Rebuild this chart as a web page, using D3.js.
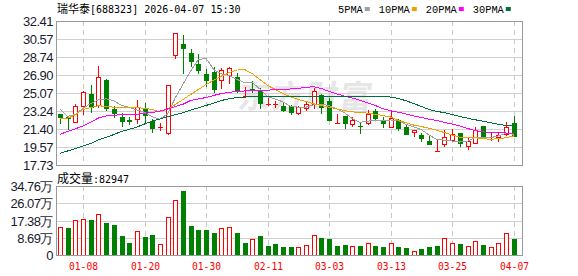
<!DOCTYPE html>
<html>
<head>
<meta charset="utf-8">
<script src="https://cdn.jsdelivr.net/npm/d3@7"></script>
<style>
html, body { margin: 0; padding: 0; background: #fff; }
svg { display: block; }
</style>
</head>
<body>
<div id="chart"></div>
<script>
// trading days shown (MM-DD)
const dates = ["01-05","01-06","01-07","01-08","01-09","01-12","01-13","01-14","01-15","01-16",
  "01-19","01-20","01-21","01-22","01-23","01-26","01-27","01-28","01-29","01-30",
  "02-02","02-03","02-04","02-05","02-06","02-09","02-10","02-11","02-12","02-13",
  "02-24","02-25","02-26","02-27","03-02","03-03","03-04","03-05","03-06","03-09",
  "03-10","03-11","03-12","03-13","03-16","03-17","03-18","03-19","03-20","03-23",
  "03-24","03-25","03-26","03-27","03-30","03-31","04-01","04-02","04-03","04-07"];

const open = [22.90,22.60,22.08,23.77,24.97,23.85,26.40,23.44,22.62,22.27,
  22.39,23.57,22.22,21.60,21.02,28.94,30.06,29.12,28.06,27.01,
  27.24,26.40,26.90,26.73,24.78,25.50,25.28,23.92,23.90,23.77,
  23.74,23.00,23.51,23.92,24.87,24.25,22.03,22.73,21.88,21.73,
  21.98,23.27,22.32,21.64,22.32,21.57,21.06,20.79,20.18,19.14,
  19.84,20.28,20.96,19.70,20.01,21.71,20.60,20.55,20.89,21.98];
const high = [22.95,22.62,23.95,25.27,25.89,27.82,26.45,23.70,23.00,22.59,
  24.36,24.02,22.39,21.98,25.90,31.20,30.98,29.53,29.05,27.49,
  27.75,27.59,27.75,27.08,25.71,26.29,25.55,24.59,24.25,24.02,
  23.85,23.74,24.29,25.61,24.97,24.53,22.93,22.75,22.59,21.98,
  23.34,23.41,22.66,23.27,22.39,21.81,21.30,20.96,20.79,20.35,
  21.30,21.37,21.00,20.55,21.64,21.74,20.96,20.96,22.14,22.73];
const low = [21.98,21.37,22.08,22.93,23.17,23.61,23.34,22.59,21.74,21.91,
  21.98,22.14,21.12,21.30,20.92,28.61,27.08,27.82,27.14,25.81,
  25.20,25.55,26.06,25.20,24.69,25.20,23.51,23.85,23.67,23.27,
  22.93,22.95,23.34,23.51,23.00,22.30,21.98,21.53,21.71,20.96,
  21.95,22.45,21.57,21.57,21.30,20.87,20.72,20.21,19.84,19.14,
  19.70,20.21,19.70,19.33,19.94,20.45,20.28,20.21,20.79,20.70];
const close = [22.58,22.55,23.77,25.14,23.61,26.73,23.51,23.06,22.25,22.24,
  23.67,22.83,21.53,21.63,25.85,31.16,29.66,28.37,27.41,26.40,
  25.48,27.41,27.65,25.38,24.80,25.48,24.02,23.95,23.93,23.34,
  23.17,23.67,23.95,25.28,23.61,22.32,22.05,21.98,22.32,21.71,
  22.93,22.49,21.98,22.49,21.47,20.89,21.30,20.45,19.84,19.16,
  20.55,20.86,19.94,20.21,21.30,20.52,20.62,20.79,21.64,20.72];
const prevClose = 22.40; // close of the day before the first candle

// volume in 万 (10k) shares
const volume = [14.1,13.8,17.6,18.0,17.6,20.5,16.3,15.1,9.6,6.2,
  12.1,9.1,10.1,5.5,19.0,27.7,32.2,14.6,12.6,12.6,
  11.2,13.4,13.9,11.2,6.2,8.1,9.6,4.5,5.5,4.2,
  4.2,3.9,5.0,10.1,8.7,8.1,4.5,5.0,4.5,4.5,
  5.9,4.5,3.9,5.9,3.9,3.4,2.2,2.9,3.9,4.5,
  8.4,5.9,5.5,4.7,7.1,5.0,4.2,5.9,10.9,8.29];

const ma5 = [23.41,22.68,22.90,23.51,24.00,24.36,24.48,24.28,23.80,23.62,
  23.35,23.10,22.65,22.40,22.95,24.60,25.97,27.33,28.49,28.60,
  27.46,27.01,26.87,26.46,26.14,26.14,25.47,24.73,24.45,24.16,
  23.70,23.63,23.63,23.88,23.94,23.77,23.44,23.05,22.46,22.08,
  22.20,22.29,22.29,22.32,22.27,21.86,21.63,21.32,20.79,20.33,
  20.26,20.17,20.07,20.14,20.57,20.57,20.52,20.69,20.97,20.86];
const ma10 = [22.49,22.49,22.85,23.40,23.59,23.78,23.69,23.63,23.57,23.57,
  23.56,23.52,23.38,23.16,23.45,23.90,24.41,24.92,25.43,25.94,
  26.38,26.80,27.15,27.41,27.46,27.04,26.44,25.84,25.43,25.01,
  24.67,24.40,24.20,23.97,23.79,23.62,23.45,23.28,23.15,23.09,
  23.02,22.90,22.77,22.62,22.28,22.03,21.80,21.65,21.48,21.27,
  21.03,20.79,20.56,20.52,20.50,20.42,20.35,20.41,20.51,20.69];
const ma20 = [20.86,21.15,21.42,21.71,22.09,22.52,22.73,22.81,22.85,22.88,
  22.90,22.98,23.08,23.24,23.44,23.70,23.92,24.31,24.46,24.61,
  24.82,25.02,25.14,25.22,25.28,25.32,25.35,25.37,25.39,25.43,
  25.48,25.55,25.65,25.71,25.53,25.22,24.97,24.76,24.56,24.33,
  24.05,23.80,23.46,23.26,23.11,22.93,22.73,22.57,22.40,22.27,
  22.06,21.91,21.71,21.45,21.25,21.11,21.06,21.02,20.99,20.96];
const ma30 = [18.92,19.16,19.41,19.67,19.92,20.30,20.55,20.84,21.15,21.37,
  21.60,21.91,22.20,22.42,22.68,22.85,23.07,23.34,23.56,23.80,
  24.05,24.31,24.48,24.61,24.66,24.68,24.69,24.70,24.70,24.71,
  24.71,24.72,24.72,24.73,24.73,24.72,24.72,24.71,24.71,24.70,
  24.70,24.69,24.68,24.66,24.51,24.28,24.00,23.69,23.39,23.20,
  23.06,22.88,22.66,22.50,22.34,22.20,22.03,21.88,21.76,21.71];

const priceTicks = [17.73,19.57,21.40,23.24,25.07,26.90,28.74,30.57,32.41];
const volTicks = [0,8.69,17.38,26.07,34.76];
const xTickDates = ["01-08","01-20","01-30","02-11","03-03","03-13","03-25","04-07"];

const maNames = ["5PMA","10PMA","20PMA","30PMA"];
const maSeries = [ma5, ma10, ma20, ma30];
const maColors = ["#a0a0a0","#f0a000","#ff00ff","#00703a"];

const stockName = "瑞华泰";
const stockInfo = "[688323] 2026-04-07 15:30";
const lastVolume = 82947;

document.addEventListener('DOMContentLoaded', function () {
  const fullwidth = 578;
  const fullheight = 276;
  const left = 56, right = 522;
  const mainTop = 21, mainBottom = 165;
  const volTop = 186, volBottom = 255;
  const red = "#ff0000", green = "#008000";
  const gridColor = "#d0d0d0", borderColor = "#999999";
  const numFont = "'Liberation Sans', Arial, sans-serif";
  const monoFont = "'DejaVu Sans Mono', monospace";
  const cjkFont = "'Noto Sans CJK SC', sans-serif";

  const n = dates.length;

  const xScale = d3.scaleLinear().
  domain([0, n - 1]).
  range([60, 513.7]);

  const yScale = d3.scaleLinear().
  domain([priceTicks[0], priceTicks[priceTicks.length - 1]]).
  range([mainBottom, mainTop]);

  const vScale = d3.scaleLinear().
  domain([0, volTicks[volTicks.length - 1]]).
  range([volBottom, volTop]);

  const cx = i => Math.round(xScale(i));
  const py = v => Math.round(yScale(v));

  const svg = d3.select("#chart").
  append("svg").
  attr("width", fullwidth).
  attr("height", fullheight);

  // watermark
  svg.append("text").
  attr("x", 238).
  attr("y", 108).
  attr("font-family", cjkFont).
  attr("font-size", 32).
  attr("font-weight", "bold").
  attr("letter-spacing", 2).
  attr("fill", "#e6e6e6").
  attr("transform", "skewX(-8) translate(14,0)").
  text("东方财富");

  // horizontal grid
  svg.append("g").selectAll("line").
  data(priceTicks).
  enter().
  append("line").
  attr("x1", left).
  attr("x2", right).
  attr("y1", d => py(d) + 0.5).
  attr("y2", d => py(d) + 0.5).
  attr("stroke", gridColor);

  svg.append("g").selectAll("line").
  data(volTicks).
  enter().
  append("line").
  attr("x1", left).
  attr("x2", right).
  attr("y1", d => Math.round(vScale(d)) + 0.5).
  attr("y2", d => Math.round(vScale(d)) + 0.5).
  attr("stroke", gridColor);

  // vertical dashed grid at the date ticks
  const tickIdx = xTickDates.map(d => dates.indexOf(d));
  [[mainTop, mainBottom], [volTop, volBottom]].forEach(function (r) {
    svg.append("g").selectAll("line").
    data(tickIdx).
    enter().
    append("line").
    attr("x1", i => cx(i) + 0.5).
    attr("x2", i => cx(i) + 0.5).
    attr("y1", r[0]).
    attr("y2", r[1]).
    attr("stroke", "#c8c8c8").
    attr("stroke-dasharray", "5,4");
  });

  // candles
  const candles = svg.append("g").attr("shape-rendering", "crispEdges");
  for (let i = 0; i < n; ++i) {
    const up = close[i] >= open[i];
    const col = up ? red : green;
    const x0 = cx(i);
    const top = py(Math.max(open[i], close[i]));
    const bot = py(Math.min(open[i], close[i]));
    const hi = py(high[i]);
    const lo = py(low[i]);
    if (hi < top) {
      candles.append("line").attr("x1", x0 + 0.5).attr("x2", x0 + 0.5).
      attr("y1", hi).attr("y2", top).attr("stroke", col);
    }
    if (lo > bot) {
      candles.append("line").attr("x1", x0 + 0.5).attr("x2", x0 + 0.5).
      attr("y1", bot + 1).attr("y2", lo + 1).attr("stroke", col);
    }
    if (bot - top < 2) {
      candles.append("rect").attr("x", x0 - 2).attr("y", top).
      attr("width", 5).attr("height", Math.max(1, bot - top + 1)).attr("fill", col);
    } else if (up) {
      candles.append("rect").attr("x", x0 - 1.5).attr("y", top + 0.5).
      attr("width", 4).attr("height", bot - top).
      attr("fill", "#fff").attr("stroke", col);
    } else {
      candles.append("rect").attr("x", x0 - 2).attr("y", top).
      attr("width", 5).attr("height", bot - top + 1).attr("fill", col);
    }
  }

  // moving averages
  const line = d3.line().
  x((d, i) => xScale(i)).
  y(d => yScale(d));
  maSeries.forEach(function (s, k) {
    svg.append("path").
    datum(s).
    attr("d", line).
    attr("fill", "none").
    attr("stroke", maColors[k]).
    attr("stroke-width", 1).
    attr("shape-rendering", "crispEdges");
  });

  // volume bars
  const vols = svg.append("g").attr("shape-rendering", "crispEdges");
  for (let i = 0; i < n; ++i) {
    const prev = i === 0 ? prevClose : close[i - 1];
    const up = close[i] >= prev;
    const x0 = cx(i);
    const top = Math.round(vScale(volume[i]));
    if (up) {
      vols.append("rect").attr("x", x0 - 1.5).attr("y", top + 0.5).
      attr("width", 4).attr("height", volBottom - top).
      attr("fill", "#fff").attr("stroke", red);
    } else {
      vols.append("rect").attr("x", x0 - 2).attr("y", top).
      attr("width", 5).attr("height", volBottom - top + 1).attr("fill", green);
    }
  }

  // panel borders
  [[mainTop, mainBottom], [volTop, volBottom]].forEach(function (r) {
    svg.append("rect").
    attr("x", left + 0.5).
    attr("y", r[0] + 0.5).
    attr("width", right - left).
    attr("height", r[1] - r[0]).
    attr("fill", "none").
    attr("stroke", borderColor);
  });

  // price labels
  svg.append("g").selectAll("text").
  data(priceTicks).
  enter().
  append("text").
  attr("x", 53).
  attr("y", d => yScale(d) + 5).
  attr("text-anchor", "end").
  attr("font-family", numFont).
  attr("font-size", 13).
  attr("letter-spacing", -0.5).
  attr("fill", "#1a1a2e").
  text(d => d.toFixed(2));

  // volume labels
  svg.append("g").selectAll("text").
  data(volTicks).
  enter().
  append("text").
  attr("x", 53).
  attr("y", d => vScale(d) + 5).
  attr("text-anchor", "end").
  attr("font-family", numFont).
  attr("font-size", 13).
  attr("letter-spacing", -0.5).
  attr("fill", "#1a1a2e").
  text(d => d === 0 ? "0" : d.toFixed(2) + "万");

  // date labels
  svg.append("g").selectAll("text").
  data(tickIdx).
  enter().
  append("text").
  attr("x", i => cx(i) + 0.5).
  attr("y", 270).
  attr("text-anchor", "middle").
  attr("font-family", monoFont).
  attr("font-size", 11).
  attr("textLength", 29).
  attr("lengthAdjust", "spacingAndGlyphs").
  attr("fill", red).
  text(i => dates[i]);

  // title
  const title = svg.append("text").
  attr("x", 57).
  attr("y", 13).
  attr("fill", "#000");
  title.append("tspan").
  attr("font-family", cjkFont).
  attr("font-size", 11).
  text(stockName);
  title.append("tspan").
  attr("font-family", monoFont).
  attr("font-size", 10).
  text(stockInfo);

  // legend
  let lx = 338;
  maNames.forEach(function (name, k) {
    const w = name.length * 6.2;
    svg.append("text").
    attr("x", lx).
    attr("y", 13).
    attr("font-family", "'Liberation Mono', monospace").
    attr("font-size", 11).
    attr("textLength", w).
    attr("lengthAdjust", "spacingAndGlyphs").
    attr("fill", "#000").
    text(name);
    svg.append("rect").
    attr("x", lx + w + 2).
    attr("y", 7).
    attr("width", 5).
    attr("height", 4).
    attr("fill", maColors[k]);
    lx = lx + w + 2 + 5 + 9;
  });

  // volume caption
  const cap = svg.append("text").
  attr("x", 57).
  attr("y", 183).
  attr("fill", "#000");
  cap.append("tspan").
  attr("font-family", cjkFont).
  attr("font-size", 12).
  text("成交量");
  cap.append("tspan").
  attr("font-family", monoFont).
  attr("font-size", 10).
  text(":" + lastVolume);
});
</script>
</body>
</html>
